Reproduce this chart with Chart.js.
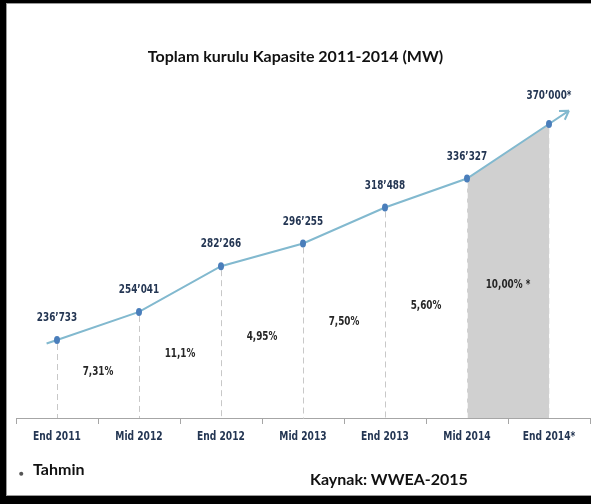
<!DOCTYPE html>
<html>
<head>
<meta charset="utf-8">
<script src="https://cdn.jsdelivr.net/npm/chart.js@4"></script>
<style>
  html, body { margin: 0; padding: 0; background: #000; }
  #frame { position: relative; width: 591px; height: 504px; overflow: hidden; }
  #panel {
    position: absolute; left: 7px; top: 4px; width: 584px; height: 491px;
    background: #fff; box-shadow: 0 0 0 1px #9a9a9a;
  }
  #chart { position: absolute; left: 0; top: 0; }
  .txt { position: absolute; font-family: Lato, "Open Sans", sans-serif; font-weight: bold; color: #111; white-space: nowrap; }
  #title { left: 0; width: 591px; top: 46px; text-align: center; font-size: 16px; }
  #dot { left: 19px; top: 468px; font-size: 8px; color: #555; }
  #tahmin { left: 33px; top: 459px; font-size: 16px; }
  #source { left: 310px; top: 469px; font-size: 16px; }
</style>
</head>
<body>
<div id="frame">
  <div id="panel"></div>
  <canvas id="chart" width="591" height="504"></canvas>
  <div class="txt" id="title">Toplam kurulu Kapasite 2011-2014 (MW)</div>
  <div class="txt" id="dot">&#9679;</div>
  <div class="txt" id="tahmin">Tahmin</div>
  <div class="txt" id="source">Kaynak: WWEA-2015</div>
</div>
<script>
// ── data ──────────────────────────────────────
const periods = ['End 2011', 'Mid 2012', 'End 2012', 'Mid 2013', 'End 2013', 'Mid 2014', 'End 2014*'];
const capacityMW = [236733, 254041, 282266, 296255, 318488, 336327, 370000];
const estimated = [false, false, false, false, false, false, true];
const growthLabels = ['7,31%', '11,1%', '4,95%', '7,50%', '5,60%', '10,00% *'];
// the shaded (forecast) stretch: Mid 2014 -> End 2014
const forecastMW = [null, null, null, null, null, 336327, 370000];

const LINE = '#82b9cf';
const POINT = '#4a7ebb';
const NAVY = '#243653';
const NARROW = '"DejaVu Sans Condensed", "Liberation Sans Narrow", sans-serif';

const fmt = (v, star) => {
  const s = String(v);
  return s.slice(0, s.length - 3) + '\u2019' + s.slice(-3) + (star ? '*' : '');
};

// narrow text: squeeze horizontally to mimic a condensed face
function narrowText(ctx, text, x, y, k = 0.82) {
  ctx.save();
  ctx.translate(x, y);
  ctx.scale(k, 1);
  ctx.fillText(text, 0, 0);
  ctx.restore();
}

// droplines, value labels, growth labels, arrow, axis labels
const decorations = {
  id: 'decorations',
  afterDatasetsDraw(chart) {
    const { ctx, chartArea } = chart;
    const pts = chart.getDatasetMeta(1).data;
    const bottom = chartArea.bottom;
    ctx.save();

    // dashed droplines
    ctx.lineWidth = 1;
    ctx.setLineDash([6, 4]);
    pts.forEach((p, i) => {
      ctx.strokeStyle = i >= 5 ? '#f2f2f2' : '#c8c8c8';
      ctx.beginPath();
      ctx.moveTo(Math.round(p.x) + 0.5, p.y + 4);
      ctx.lineTo(Math.round(p.x) + 0.5, bottom);
      ctx.stroke();
    });
    ctx.setLineDash([]);

    // lead-in before first point and arrow after last
    ctx.strokeStyle = LINE;
    ctx.lineWidth = 2;
    const a = pts[0], b = pts[1];
    let dx = b.x - a.x, dy = b.y - a.y, len = Math.hypot(dx, dy);
    ctx.beginPath();
    ctx.moveTo(a.x, a.y);
    ctx.lineTo(a.x - dx / len * 11, a.y - dy / len * 11);
    ctx.stroke();

    const c = pts[pts.length - 2], d = pts[pts.length - 1];
    dx = d.x - c.x; dy = d.y - c.y; len = Math.hypot(dx, dy);
    const ux = dx / len, uy = dy / len;
    const tx = d.x + ux * 24, ty = d.y + uy * 24;
    ctx.beginPath();
    ctx.moveTo(d.x, d.y);
    ctx.lineTo(tx, ty);
    const ang = Math.atan2(uy, ux);
    [Math.PI - 0.55, -(Math.PI - 0.55)].forEach(off => {
      ctx.moveTo(tx, ty);
      ctx.lineTo(tx + Math.cos(ang + off) * 10, ty + Math.sin(ang + off) * 10);
    });
    ctx.stroke();

    // points on top
    ctx.fillStyle = POINT;
    pts.forEach(p => {
      ctx.beginPath();
      ctx.ellipse(p.x, p.y, 3, 4, 0, 0, Math.PI * 2);
      ctx.fill();
    });

    // value labels
    ctx.font = 'bold 12px ' + NARROW;
    ctx.textAlign = 'center';
    ctx.textBaseline = 'middle';
    ctx.fillStyle = NAVY;
    pts.forEach((p, i) => {
      const off = estimated[i] ? 28 : 22;
      narrowText(ctx, fmt(capacityMW[i], estimated[i]), p.x, p.y - off);
    });

    // growth labels between points
    ctx.fillStyle = '#262626';
    growthLabels.forEach((t, i) => {
      const p = pts[i], q = pts[i + 1];
      const x = (p.x + q.x) / 2;
      const y = ((p.y + q.y) / 2 + bottom) / 2;
      narrowText(ctx, t, x, y);
    });

    // category labels (condensed), taken from the x scale
    const xs = chart.scales.x;
    ctx.font = 'bold 13px ' + NARROW;
    ctx.fillStyle = NAVY;
    xs.getLabels().forEach((lab, i) => {
      narrowText(ctx, lab, xs.getPixelForTick(i), bottom + 19, 0.78);
    });
    ctx.restore();
  }
};

new Chart(document.getElementById('chart'), {
  type: 'line',
  data: {
    labels: periods,
    datasets: [
      {
        label: 'Tahmin',
        data: forecastMW,
        fill: 'start',
        backgroundColor: '#d0d0d0',
        borderWidth: 0,
        pointRadius: 0,
        order: 2,
      },
      {
        label: 'Kapasite',
        data: capacityMW,
        borderColor: LINE,
        borderWidth: 2,
        backgroundColor: POINT,
        pointRadius: 0,
        tension: 0,
        fill: false,
        order: 1,
      },
    ],
  },
  options: {
    responsive: false,
    animation: false,
    layout: { padding: { top: 100, left: 16, right: 1, bottom: 0 } },
    scales: {
      x: {
        offset: true,
        afterFit: s => { s.height = 86; },
        border: { color: '#a6a6a6', width: 1 },
        grid: { offset: true, drawOnChartArea: false, drawTicks: true, tickLength: 6, color: '#a6a6a6' },
        ticks: { color: 'rgba(0,0,0,0)', padding: 6, font: { family: NARROW, size: 11, weight: 'bold' }, maxRotation: 0 },
      },
      y: { display: false, min: 188600, max: 384800 },
    },
    plugins: {
      legend: { display: false },
      tooltip: { enabled: false },
    },
  },
  plugins: [decorations],
});
</script>
</body>
</html>
